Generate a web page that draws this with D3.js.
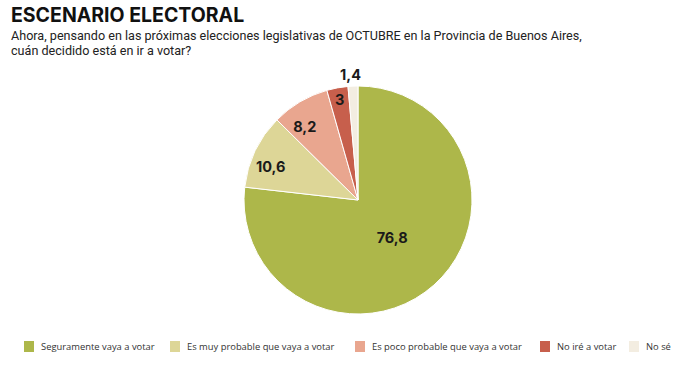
<!DOCTYPE html>
<meta charset="utf-8">
<html>
<head>
<title>Escenario electoral</title>
<style>
  body { margin: 0; background: #fff; }
  svg { display: block; }
</style>
</head>
<body>
<div id="chart"></div>
<script src="https://d3js.org/d3.v7.min.js"></script>
<script>
// data
var categories = ["Seguramente vaya a votar", "Es muy probable que vaya a votar",
                  "Es poco probable que vaya a votar", "No iré a votar", "No sé"];
var values = [76.8, 10.6, 8.2, 3, 1.4];
var labels = ["76,8", "10,6", "8,2", "3", "1,4"];
var colors = ["#adb74a", "#ddd697", "#e9a68f", "#c75f4c", "#f3ede1"];
var legendX = [24, 170, 355, 540, 629];

var width = 692, height = 376;
var svg = d3.select("#chart").append("svg")
  .attr("width", width).attr("height", height);

svg.append("text")
  .attr("x", 11).attr("y", 22)
  .style("font-family", "Inter, 'Open Sans', sans-serif")
  .style("font-weight", 700).style("font-size", "19.5px")
  .attr("fill", "#111")
  .text("ESCENARIO ELECTORAL");

var sub = ["Ahora, pensando en las próximas elecciones legislativas de OCTUBRE en la Provincia de Buenos Aires,",
           "cuán decidido está en ir a votar?"];
svg.selectAll("text.sub").data(sub).enter().append("text")
  .attr("class", "sub")
  .attr("x", 11).attr("y", function(d, i) { return 40 + i * 14.5; })
  .style("font-family", "Roboto, sans-serif")
  .style("font-size", "12.6px")
  .attr("fill", "#222")
  .text(function(d) { return d; });

// pie
var cx = 358, cy = 200, r = 114;
var pie = d3.pie().sort(null).value(function(d) { return d; });
var arcs = pie(values);
var arc = d3.arc().innerRadius(0).outerRadius(r);

var g = svg.append("g").attr("transform", "translate(" + cx + "," + cy + ")");
g.selectAll("path").data(arcs).enter().append("path")
  .attr("d", arc)
  .attr("fill", function(d, i) { return colors[i]; })
  .attr("stroke", "#fff").attr("stroke-width", 1);

// label radius per slice (last one sits outside), plus small nudges
var labelR = [0.45, 0.8, 0.78, 0.89, 1.1];
var nudgeX = [0, -5, -8, 0, -2];
var nudgeY = [0, 6, 3, 0, 0];
g.selectAll("text.lbl").data(arcs).enter().append("text")
  .attr("class", "lbl")
  .attr("transform", function(d, i) {
    var a = (d.startAngle + d.endAngle) / 2;
    var rr = r * labelR[i];
    return "translate(" + (Math.sin(a) * rr + nudgeX[i]) + "," + (-Math.cos(a) * rr + nudgeY[i]) + ")";
  })
  .attr("text-anchor", "middle").attr("dy", "0.35em")
  .style("font-family", "Inter, 'Open Sans', sans-serif")
  .style("font-weight", 700).style("font-size", "14.5px")
  .attr("fill", "#1a1a1a")
  .text(function(d, i) { return labels[i]; });

// legend
var leg = svg.selectAll("g.leg").data(categories).enter().append("g")
  .attr("class", "leg")
  .attr("transform", function(d, i) { return "translate(" + legendX[i] + ",341)"; });
leg.append("rect").attr("width", 10).attr("height", 11)
  .attr("fill", function(d, i) { return colors[i]; });
leg.append("text").attr("x", 17).attr("y", 9)
  .style("font-family", "'Open Sans', sans-serif")
  .style("font-size", "9.4px")
  .attr("fill", "#333")
  .text(function(d) { return d; });
</script>
</body>
</html>
